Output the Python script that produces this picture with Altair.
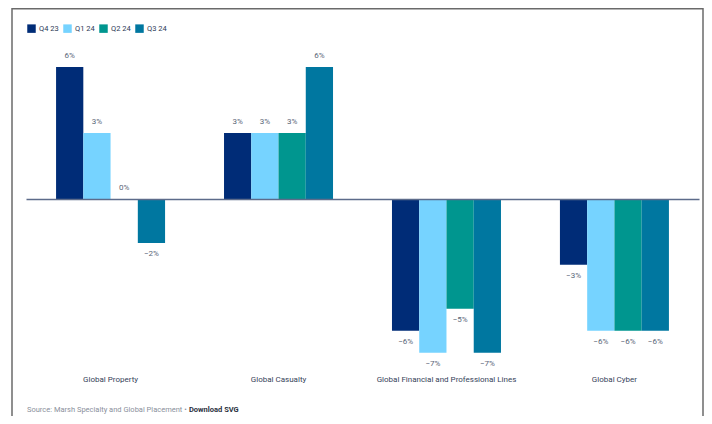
import altair as alt
import pandas as pd

categories = ["Global Property", "Global Casualty",
              "Global Financial and Professional Lines", "Global Cyber"]
series = ["Q4 23", "Q1 24", "Q2 24", "Q3 24"]
q4_23 = [6, 3, -6, -3]
q1_24 = [3, 3, -7, -6]
q2_24 = [0, 3, -5, -6]
q3_24 = [-2, 6, -7, -6]
colors = ["#002C77", "#76D3FF", "#00968F", "#0077A0"]
source_text = "Source: Marsh Specialty and Global Placement \u2022"
download_text = "Download SVG"

FONT = "Roboto"
W, H = 673, 321

vals = {"Q4 23": q4_23, "Q1 24": q1_24, "Q2 24": q2_24, "Q3 24": q3_24}
rows = [{"cat": c, "series": s, "v": vals[s][i]}
        for s in series for i, c in enumerate(categories)]
df = pd.DataFrame(rows)

base = alt.Chart(df).transform_calculate(
    lbl="(datum.v < 0 ? '\u2212' : '') + abs(datum.v) + '%'"
).encode(
    x=alt.X("cat:N", sort=categories,
            scale=alt.Scale(paddingInner=0.351, paddingOuter=0.179),
            axis=alt.Axis(title=None, domain=False, ticks=False, labelAngle=0,
                          labelPadding=9, labelFont=FONT, labelFontSize=8,
                          labelColor="#36435a", labelLimit=0)),
    xOffset=alt.XOffset("series:N", sort=series,
                        scale=alt.Scale(paddingInner=0, paddingOuter=0)),
    y=alt.Y("v:Q", scale=alt.Scale(domain=[-7.6, 7], nice=False, zero=False),
            axis=alt.Axis(title=None, values=[0], labels=False, ticks=False,
                          domain=False, grid=True, gridColor="#5d6b8a",
                          gridWidth=1.5, zindex=1)),
)

bars = base.mark_bar().encode(
    color=alt.Color("series:N", sort=series,
                    scale=alt.Scale(domain=series, range=colors),
                    legend=alt.Legend(orient="none", legendX=1, legendY=-21,
                                      direction="horizontal", title=None,
                                      symbolType="square", symbolSize=72,
                                      symbolStrokeWidth=0, labelFont=FONT,
                                      labelFontSize=7.5, labelColor="#2c3a55",
                                      columnPadding=4, labelOffset=3))
)

pos_lbl = base.transform_filter("datum.v >= 0").mark_text(
    dy=-10.5, baseline="middle", font=FONT, fontSize=8, color="#5a6678"
).encode(text="lbl:N")
neg_lbl = base.transform_filter("datum.v < 0").mark_text(
    dy=11, baseline="middle", font=FONT, fontSize=8, color="#5a6678"
).encode(text="lbl:N")

one = pd.DataFrame({"a": [0]})
frame_l = alt.Chart(one).mark_rule(color="#6a6a6a", strokeWidth=1.5).encode(
    x=alt.value(-14), y=alt.value(-37), y2=alt.value(H + 50))
frame_r = alt.Chart(one).mark_rule(color="#6a6a6a", strokeWidth=1.5).encode(
    x=alt.value(W + 4), y=alt.value(-37), y2=alt.value(H + 50))
frame_t = alt.Chart(one).mark_rule(color="#6a6a6a", strokeWidth=1.5).encode(
    x=alt.value(-14), x2=alt.value(W + 4), y=alt.value(-36.3))

src = alt.Chart(pd.DataFrame({"t": [source_text]})).mark_text(
    align="left", baseline="middle", font=FONT, fontSize=7.5, color="#8a909c"
).encode(x=alt.value(1), y=alt.value(H + 44), text="t:N")
dl = alt.Chart(pd.DataFrame({"t": [download_text]})).mark_text(
    align="left", baseline="middle", font=FONT, fontSize=7.5, color="#2a3040",
    fontWeight="bold"
).encode(x=alt.value(163), y=alt.value(H + 44), text="t:N")

chart = alt.layer(frame_l, frame_r, frame_t, bars, pos_lbl, neg_lbl,
                  src, dl).properties(
    width=W, height=H,
    autosize=alt.AutoSizeParams(type="none"),
    padding={"left": 18, "top": 37, "right": 5, "bottom": 50},
).configure_view(stroke=None)

chart.save("out.html", embed_options={"renderer": "svg", "actions": False})
